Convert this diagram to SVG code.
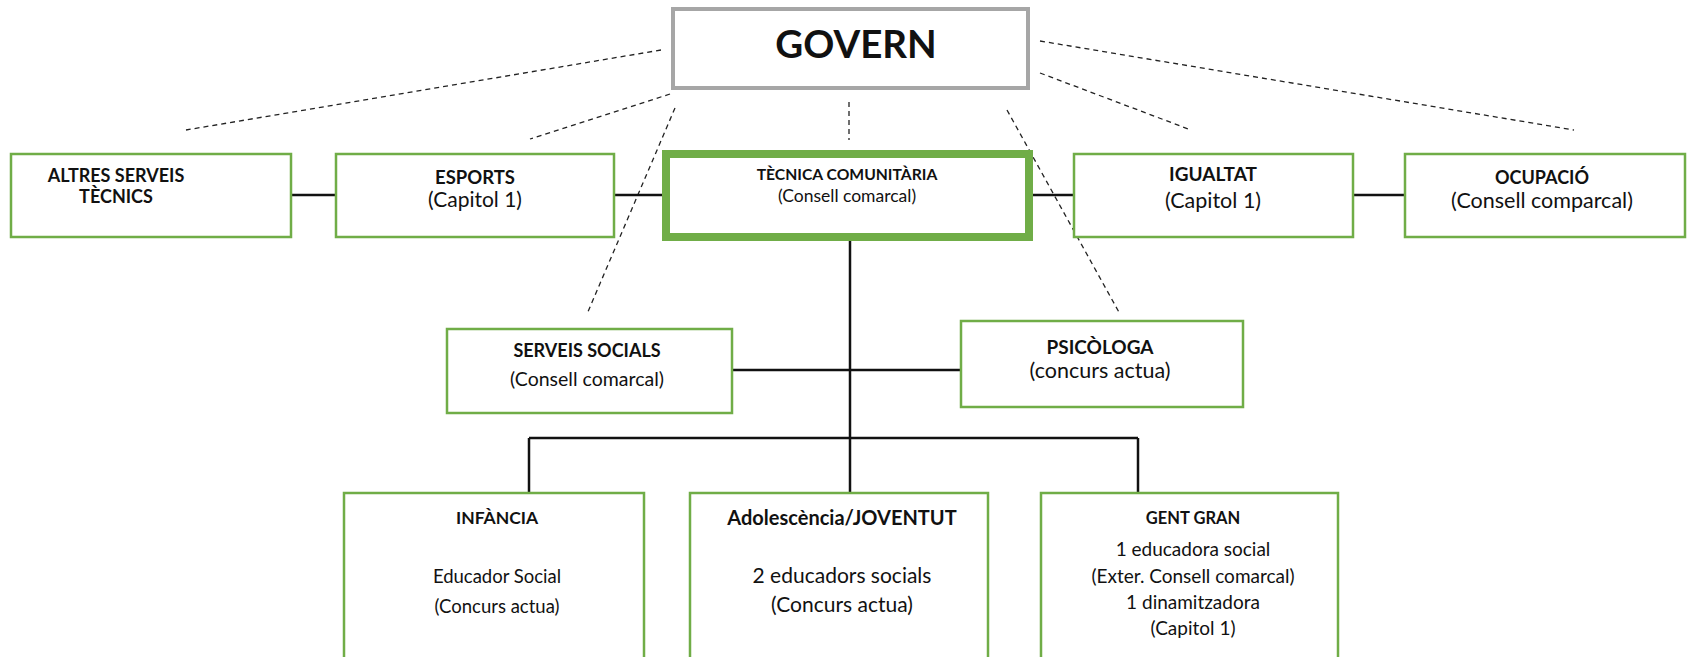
<svg xmlns="http://www.w3.org/2000/svg" width="1688" height="657" viewBox="0 0 1688 657">
<style>
.box{fill:#fff;stroke:#70AD47;stroke-width:2.5}
.main{fill:#fff;stroke:#70AD47;stroke-width:8}
.gov{fill:#fff;stroke:#A6A6A6;stroke-width:4}
.solid{stroke:#111;stroke-width:2.5;fill:none}
.dash{stroke:#222;stroke-width:1.3;stroke-dasharray:5 4;fill:none}
text{font-family:Lato,"Open Sans","Liberation Sans",sans-serif;fill:#111;text-anchor:middle}
.b{font-weight:bold}
</style>
<rect width="1688" height="657" fill="#fff"/>
<g id="connectors">
<line class="dash" x1="661" y1="50" x2="186" y2="130"/>
<line class="dash" x1="670" y1="94" x2="530" y2="139"/>
<line class="dash" x1="675" y1="108" x2="587" y2="314"/>
<line class="dash" x1="849" y1="102" x2="849" y2="140"/>
<line class="dash" x1="1007" y1="110" x2="1120" y2="314"/>
<line class="dash" x1="1040" y1="73" x2="1191" y2="130"/>
<line class="dash" x1="1040" y1="41" x2="1574" y2="130"/>
<line class="solid" x1="291" y1="195" x2="336" y2="195"/>
<line class="solid" x1="614" y1="195" x2="664" y2="195"/>
<line class="solid" x1="1031" y1="195" x2="1074" y2="195"/>
<line class="solid" x1="1353" y1="195" x2="1405" y2="195"/>
<line class="solid" x1="850" y1="239" x2="850" y2="493"/>
<line class="solid" x1="732" y1="370" x2="961" y2="370"/>
<line class="solid" x1="529" y1="438" x2="1138" y2="438"/>
<line class="solid" x1="529" y1="438" x2="529" y2="493"/>
<line class="solid" x1="1138" y1="438" x2="1138" y2="493"/>
</g>
<g id="govern"><rect class="gov" x="673" y="9" width="355" height="79"/><text class="b" x="856" y="58" font-size="38.5">GOVERN</text></g>
<g id="altres"><rect class="box" x="11" y="154" width="280" height="83"/><text class="b" x="116" y="182" font-size="18">ALTRES SERVEIS</text><text class="b" x="116" y="203" font-size="18">TÈCNICS</text></g>
<g id="esports"><rect class="box" x="336" y="154" width="278" height="83"/><text class="b" x="475" y="184" font-size="18.5">ESPORTS</text><text x="475" y="207" font-size="21">(Capitol 1)</text></g>
<g id="tecnica"><rect class="main" x="666" y="154" width="363" height="83"/><text class="b" x="847" y="180" font-size="15.7">TÈCNICA COMUNITÀRIA</text><text x="847" y="202" font-size="17.5">(Consell comarcal)</text></g>
<g id="igualtat"><rect class="box" x="1074" y="154" width="279" height="83"/><text class="b" x="1213" y="181" font-size="19">IGUALTAT</text><text x="1213" y="208" font-size="21.5">(Capitol 1)</text></g>
<g id="ocupacio"><rect class="box" x="1405" y="154" width="280" height="83"/><text class="b" x="1542" y="184" font-size="18">OCUPACIÓ</text><text x="1542" y="208" font-size="21.5">(Consell comparcal)</text></g>
<g id="serveis"><rect class="box" x="447" y="329" width="285" height="84"/><text class="b" x="587" y="357" font-size="18">SERVEIS SOCIALS</text><text x="587" y="386" font-size="19.5">(Consell comarcal)</text></g>
<g id="psicologa"><rect class="box" x="961" y="321" width="282" height="86"/><text class="b" x="1100" y="354" font-size="19">PSICÒLOGA</text><text x="1100" y="378" font-size="21.5">(concurs actua)</text></g>
<g id="infancia"><rect class="box" x="344" y="493" width="300" height="170"/><text class="b" x="497" y="524" font-size="17.5">INFÀNCIA</text><text x="497" y="583" font-size="18.5">Educador Social</text><text x="497" y="613" font-size="18.5">(Concurs actua)</text></g>
<g id="adolescencia"><rect class="box" x="690" y="493" width="298" height="170"/><text class="b" x="842" y="525" font-size="20">Adolescència/JOVENTUT</text><text x="842" y="583" font-size="21">2 educadors socials</text><text x="842" y="612" font-size="21">(Concurs actua)</text></g>
<g id="gentgran"><rect class="box" x="1041" y="493" width="297" height="170"/><text class="b" x="1193" y="524" font-size="16.5">GENT GRAN</text><text x="1193" y="556" font-size="19">1 educadora social</text><text x="1193" y="583" font-size="19">(Exter. Consell comarcal)</text><text x="1193" y="609" font-size="19">1 dinamitzadora</text><text x="1193" y="635" font-size="19">(Capitol 1)</text></g>
</svg>
